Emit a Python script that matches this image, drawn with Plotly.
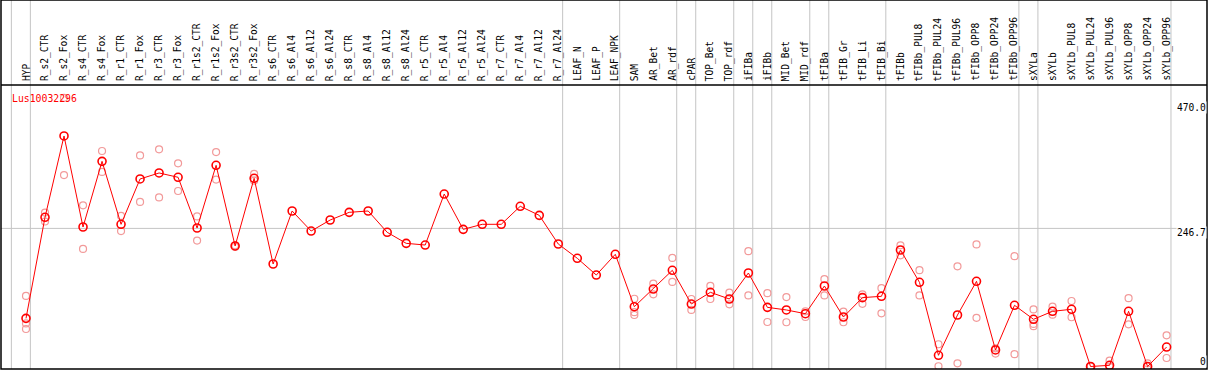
import plotly.graph_objects as go

categories = ["HYP", "R_s2_CTR", "R_s2_Fox", "R_s4_CTR", "R_s4_Fox", "R_r1_CTR", "R_r1_Fox",
              "R_r3_CTR", "R_r3_Fox", "R_r1s2_CTR", "R_r1s2_Fox", "R_r3s2_CTR", "R_r3s2_Fox",
              "R_s6_CTR", "R_s6_Al4", "R_s6_Al12", "R_s6_Al24", "R_s8_CTR", "R_s8_Al4",
              "R_s8_Al12", "R_s8_Al24", "R_r5_CTR", "R_r5_Al4", "R_r5_Al12", "R_r5_Al24",
              "R_r7_CTR", "R_r7_Al4", "R_r7_Al12", "R_r7_Al24", "LEAF_N", "LEAF_P", "LEAF_NPK",
              "SAM", "AR_Bet", "AR_rdf", "cPAR", "TOP_Bet", "TOP_rdf", "iFIBa", "iFIBb",
              "MID_Bet", "MID_rdf", "tFIBa", "tFIB_Gr", "tFIB_Li", "tFIB_Bi", "tFIBb",
              "tFIBb_PUL8", "tFIBb_PUL24", "tFIBb_PUL96", "tFIBb_OPP8", "tFIBb_OPP24",
              "tFIBb_OPP96", "sXYLa", "sXYLb", "sXYLb_PUL8", "sXYLb_PUL24", "sXYLb_PUL96",
              "sXYLb_OPP8", "sXYLb_OPP24", "sXYLb_OPP96"]

mean_values = [86, 266.5, 411.8, 249.2, 366.5, 254, 335, 345.7, 338, 247.4, 359.4, 215.3, 336.2,
               183.1, 277.8, 242, 261.7, 275.4, 277.8, 239.7, 220, 217, 308.1, 245, 254, 254,
               286.2, 270, 218.8, 193.3, 163.4, 200.4, 106.8, 138.4, 171.8, 111.6, 132.5, 120.6,
               167, 105.7, 101, 94.3, 143.8, 88.4, 123, 125.4, 208.1, 150.4, 20, 92, 152.2, 29.5,
               109.3, 84.3, 98.6, 102.2, 0, 2.1, 98.6, 0, 34.8]

N = None
rep_a = [126, 275, 480, 288, 385, 269, 377, 388, 363, 268, 383, 216.5, 344,
         N, N, N, N, N, N, N, N, N, N, N, N, N, N, N, N, N, N, N,
         121, 148, 194, 120.6, 144, 132, 206, 131, 124, 98.6, 156, 98, 129, 140, 216.5,
         172, 39.7, 179, 218, 32.5, 197, 102, 107, 117, 0, 10.4, 122, 5.7, 55.7]
rep_b = [77, 259, 342, 210, 347.5, 242, 294, 302, 313.5, 225, 334, 213.5, 332,
         N, N, N, N, N, N, N, N, N, N, N, N, N, N, N, N, N, N, N,
         97, 129, 151, 101, 120.6, 111, 127, 79.5, 79, 88.4, 127, 79, 112, 95, 198.6,
         127, 0.4, 5.7, 87, 23, 22, 76, 92.5, 88, 0, 0, 75.4, 0, 15.2]
rep_c = [67] + [N] * 31 + [92] + [N] * 20 + [72] + [N] * 7

# last category of each group (vertical separators); None = left edge separator
group_ends = [None, "HYP", "R_r7_Al24", "LEAF_NPK", "AR_rdf", "cPAR", "TOP_rdf", "iFIBa",
              "iFIBb", "MID_rdf", "tFIBa", "tFIB_Bi", "tFIBb_OPP96", "sXYLa", "sXYLb_OPP96"]

ytick_vals = [470.0, 246.7, 0]
ytick_text = ["470.0", "246.7", "0"]
gene_name = "Lus10032296"

FONT = "DejaVu Sans Mono"
idx = list(range(len(categories)))

fig = go.Figure()

for reps in (rep_a, rep_b, rep_c):
    fig.add_trace(go.Scatter(
        x=idx, y=reps, mode="markers", showlegend=False, hoverinfo="skip",
        marker=dict(symbol="circle-open", size=7, color="#f29a9a", line=dict(width=1.2, color="#f29a9a")),
    ))

fig.add_trace(go.Scatter(
    x=idx, y=mean_values, mode="lines+markers", showlegend=False,
    line=dict(color="#ff0000", width=1),
    marker=dict(symbol="circle-open", size=8, color="#ff0000", line=dict(width=1.6, color="#ff0000")),
))

shapes = []
for g in group_ends:
    xv = (categories.index(g) if g is not None else -1) + 0.23
    shapes.append(dict(type="line", xref="x", yref="paper", x0=xv, x1=xv, y0=0, y1=1,
                       line=dict(color="#c4c4c4", width=1), layer="below"))
shapes.append(dict(type="line", xref="paper", yref="y", x0=0, x1=1, y0=ytick_vals[1], y1=ytick_vals[1],
                   line=dict(color="#c4c4c4", width=1), layer="below"))
band = 0.7696
shapes.append(dict(type="line", xref="paper", yref="paper", x0=0, x1=1, y0=band, y1=band,
                   line=dict(color="black", width=1.5)))
shapes.append(dict(type="rect", xref="paper", yref="paper", x0=0, x1=1, y0=0, y1=1,
                   line=dict(color="black", width=1.5)))

annotations = []
for i, c in enumerate(categories):
    annotations.append(dict(x=i, y=0.775, xref="x", yref="paper", text=c, textangle=-90,
                            showarrow=False, xanchor="center", yanchor="bottom",
                            font=dict(family=FONT, size=9.6, color="black")))
shifts = [-4, -4, 5]
for v, t, s in zip(ytick_vals, ytick_text, shifts):
    annotations.append(dict(x=1, y=v, xref="paper", yref="y", text=t, showarrow=False,
                            xanchor="right", yanchor="middle", yshift=s, bgcolor="white", borderpad=0,
                            font=dict(family=FONT, size=9.6, color="black")))
annotations.append(dict(x=0.0075, y=0.7344, xref="paper", yref="paper", text=gene_name,
                        showarrow=False, xanchor="left", yanchor="middle",
                        font=dict(family=FONT, size=9.8, color="#ff0000")))

fig.update_layout(
    width=1209, height=370,
    margin=dict(l=1, r=2, t=0, b=1),
    paper_bgcolor="white", plot_bgcolor="white",
    xaxis=dict(range=[-1.315, 62.125], showgrid=False, zeroline=False, showticklabels=False,
               ticks="", showline=False),
    yaxis=dict(range=[-4.47, 654.7], showgrid=False, zeroline=False, showticklabels=False,
               ticks="", showline=False),
    shapes=shapes, annotations=annotations,
)

fig.write_html("out.html", config={"displayModeBar": False},
               post_script="document.body.style.margin='0';document.body.style.overflow='hidden';")
